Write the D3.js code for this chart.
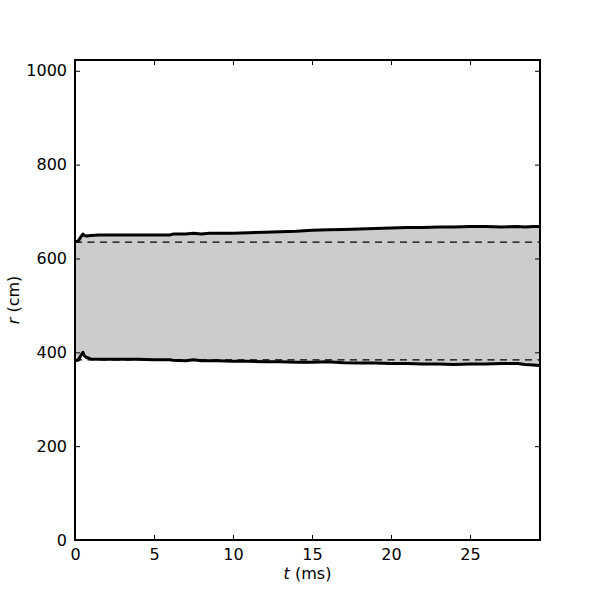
<!DOCTYPE html>
<html>
<head>
<meta charset="utf-8">
<script src="https://cdn.jsdelivr.net/npm/d3@7"></script>
<style>
html,body{margin:0;padding:0;background:#fff;}
svg text{font-family:"DejaVu Sans",sans-serif;fill:#000;}
</style>
</head>
<body>
<svg id="chart" width="600" height="600"></svg>
<script>
// data (t in ms, r in cm)
const times = [0, 0.2, 0.35, 0.5, 0.6, 0.75, 1, 1.5, 2, 3, 4, 5, 6, 6.2, 7, 7.5, 8, 8.5, 9, 10, 11, 12, 13, 14, 15, 16, 17, 18, 19, 20, 21, 22, 23, 24, 25, 26, 27, 28, 28.5, 29, 29.4];
const upperR = [636, 637, 645, 652, 649, 648, 649, 650, 650, 650, 650, 650, 650, 652, 652, 654, 652, 654, 654, 654, 655, 656, 657, 658, 660, 661, 662, 663, 664, 665, 666, 666, 667, 667, 668, 668, 667, 668, 667, 668, 668];
const lowerR = [383, 383, 392, 400, 392, 389, 386, 385, 385, 385, 385, 384, 384, 383, 382, 384, 382, 382, 382, 381, 381, 380, 380, 379, 379, 380, 378, 377, 377, 376, 376, 375, 375, 374, 375, 375, 376, 376, 374, 373, 372];
const refR = [635, 384];
const xTicks = [0, 5, 10, 15, 20, 25];
const yTicks = [0, 200, 400, 600, 800, 1000];
const xMax = 29.43, yMax = 1023;

const svg = d3.select("#chart");
const m = {l:75, r:540, t:60, b:540};
const x = d3.scaleLinear().domain([0, xMax]).range([m.l, m.r]);
const y = d3.scaleLinear().domain([0, yMax]).range([m.b, m.t]);

const rows = times.map((t,i)=>({t, up:upperR[i], lo:lowerR[i]}));

svg.append("path").datum(rows)
  .attr("d", d3.area().x(d=>x(d.t)).y0(d=>y(d.lo)).y1(d=>y(d.up)))
  .attr("fill", "#cccccc").attr("stroke", "none");

refR.forEach(v=>{
  svg.append("line").attr("x1", x(0)).attr("x2", x(xMax))
    .attr("y1", y(v)).attr("y2", y(v))
    .attr("stroke", "#000").attr("stroke-width", 1.2)
    .attr("stroke-dasharray", "7,5.5");
});

["up","lo"].forEach(k=>{
  svg.append("path").datum(rows)
    .attr("d", d3.line().x(d=>x(d.t)).y(d=>y(d[k])))
    .attr("fill","none").attr("stroke","#000").attr("stroke-width",3)
    .attr("stroke-linejoin","round");
});

// axes with inward ticks on all sides
const fs = "16px";
const gB = svg.append("g").attr("transform", `translate(0,${m.b})`)
  .call(d3.axisBottom(x).tickValues(xTicks).tickSizeInner(-5).tickSizeOuter(0).tickPadding(9).tickFormat(d3.format("d")));
const gT = svg.append("g").attr("transform", `translate(0,${m.t})`)
  .call(d3.axisTop(x).tickValues(xTicks).tickSizeInner(-5).tickSizeOuter(0).tickFormat(""));
const gL = svg.append("g").attr("transform", `translate(${m.l},0)`)
  .call(d3.axisLeft(y).tickValues(yTicks).tickSizeInner(-5).tickSizeOuter(0).tickPadding(8).tickFormat(d3.format("d")));
const gR = svg.append("g").attr("transform", `translate(${m.r},0)`)
  .call(d3.axisRight(y).tickValues(yTicks).tickSizeInner(-5).tickSizeOuter(0).tickFormat(""));
[gB,gT,gL,gR].forEach(g=>{
  g.select(".domain").remove();
  g.selectAll(".tick line").attr("stroke","#000").attr("stroke-width",1);
  g.selectAll("text").style("font-size", fs).style("font-family","DejaVu Sans, sans-serif");
});

svg.append("rect").attr("x", m.l).attr("y", m.t)
  .attr("width", m.r-m.l).attr("height", m.b-m.t)
  .attr("fill","none").attr("stroke","#000").attr("stroke-width",2);

// axis labels
const xl = svg.append("text").attr("x", (m.l+m.r)/2).attr("y", 579)
  .attr("text-anchor","middle").style("font-size", fs);
xl.append("tspan").style("font-style","italic").text("t");
xl.append("tspan").text(" (ms)");

const yl = svg.append("text").attr("transform", `translate(19,${(m.t+m.b)/2}) rotate(-90)`)
  .attr("text-anchor","middle").style("font-size", fs);
yl.append("tspan").style("font-style","italic").text("r");
yl.append("tspan").text(" (cm)");
</script>
</body>
</html>
